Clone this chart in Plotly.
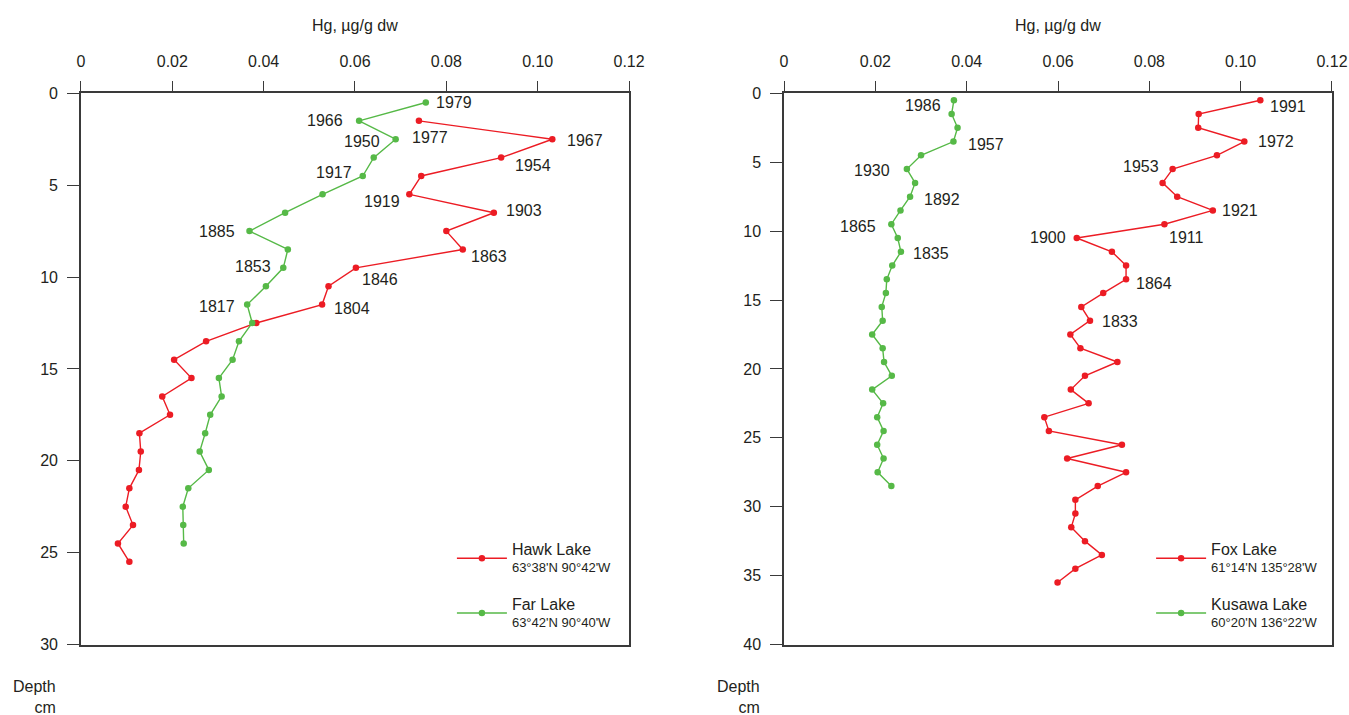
import plotly.graph_objects as go

# ---- Hg profiles (µg/g dry weight) versus sediment depth (cm) ----
hawk_depth = [1.5, 2.5, 3.5, 4.5, 5.5, 6.5, 7.5, 8.5, 9.5, 10.5, 11.5, 12.5, 13.5,
              14.5, 15.5, 16.5, 17.5, 18.5, 19.5, 20.5, 21.5, 22.5, 23.5, 24.5, 25.5]
hawk_hg = [0.0740, 0.1032, 0.0920, 0.0745, 0.0719, 0.0904, 0.0800, 0.0836, 0.0602,
           0.0542, 0.0528, 0.0384, 0.0274, 0.0204, 0.0242, 0.0178, 0.0195, 0.0128,
           0.0131, 0.0127, 0.0106, 0.0098, 0.0114, 0.0081, 0.0106]

far_depth = [0.5, 1.5, 2.5, 3.5, 4.5, 5.5, 6.5, 7.5, 8.5, 9.5, 10.5, 11.5, 12.5,
             13.5, 14.5, 15.5, 16.5, 17.5, 18.5, 19.5, 20.5, 21.5, 22.5, 23.5, 24.5]
far_hg = [0.0755, 0.0609, 0.0689, 0.0641, 0.0617, 0.0529, 0.0447, 0.0369, 0.0453,
          0.0443, 0.0405, 0.0364, 0.0375, 0.0346, 0.0332, 0.0302, 0.0308, 0.0283,
          0.0272, 0.0260, 0.0280, 0.0235, 0.0223, 0.0224, 0.0225]

fox_depth = [0.5, 1.5, 2.5, 3.5, 4.5, 5.5, 6.5, 7.5, 8.5, 9.5, 10.5, 11.5, 12.5,
             13.5, 14.5, 15.5, 16.5, 17.5, 18.5, 19.5, 20.5, 21.5, 22.5, 23.5,
             24.5, 25.5, 26.5, 27.5, 28.5, 29.5, 30.5, 31.5, 32.5, 33.5, 34.5, 35.5]
fox_hg = [0.1043, 0.0908, 0.0907, 0.1008, 0.0948, 0.0851, 0.0829, 0.0861, 0.0939,
          0.0833, 0.0641, 0.0718, 0.0749, 0.0749, 0.0699, 0.0651, 0.0670, 0.0627,
          0.0649, 0.0730, 0.0659, 0.0628, 0.0667, 0.0570, 0.0580, 0.0740, 0.0620,
          0.0749, 0.0687, 0.0638, 0.0638, 0.0629, 0.0659, 0.0696, 0.0638, 0.0599]

kusawa_depth = [0.5, 1.5, 2.5, 3.5, 4.5, 5.5, 6.5, 7.5, 8.5, 9.5, 10.5, 11.5, 12.5,
                13.5, 14.5, 15.5, 16.5, 17.5, 18.5, 19.5, 20.5, 21.5, 22.5, 23.5,
                24.5, 25.5, 26.5, 27.5, 28.5]
kusawa_hg = [0.0372, 0.0367, 0.0380, 0.0371, 0.0300, 0.0269, 0.0287, 0.0276, 0.0255,
             0.0235, 0.0249, 0.0256, 0.0237, 0.0225, 0.0223, 0.0214, 0.0216, 0.0193,
             0.0216, 0.0219, 0.0236, 0.0193, 0.0217, 0.0204, 0.0218, 0.0204, 0.0218,
             0.0205, 0.0235]

# ---- dated horizons (depth of the dated slice, year) ----
hawk_date_depths = [1.5, 2.5, 3.5, 5.5, 6.5, 8.5, 9.5, 11.5]
hawk_date_years = ["1977", "1967", "1954", "1919", "1903", "1863", "1846", "1804"]
far_date_depths = [0.5, 1.5, 2.5, 4.5, 7.5, 9.5, 11.5]
far_date_years = ["1979", "1966", "1950", "1917", "1885", "1853", "1817"]
fox_date_depths = [0.5, 3.5, 5.5, 8.5, 9.5, 10.5, 13.5, 16.5]
fox_date_years = ["1991", "1972", "1953", "1921", "1911", "1900", "1864", "1833"]
kusawa_date_depths = [0.5, 3.5, 5.5, 7.5, 9.5, 11.5]
kusawa_date_years = ["1986", "1957", "1930", "1892", "1865", "1835"]

x_ticks = [0, 0.02, 0.04, 0.06, 0.08, 0.10, 0.12]
x_tick_text = ["0", "0.02", "0.04", "0.06", "0.08", "0.10", "0.12"]

RED = "#ec1c24"
GREEN = "#56b947"
INK = "#231f20"
FRAME = "#3a3a3a"
FONT = "Liberation Sans, Arial, sans-serif"
FS = 16

fig = go.Figure()


def add_core(depth, hg, color, name, coords, xa, ya, legend):
    fig.add_trace(go.Scatter(
        x=hg, y=depth, mode="lines+markers", xaxis=xa, yaxis=ya,
        line=dict(color=color, width=1.4),
        marker=dict(color=color, size=6.5),
        name=f"<span style='font-size:{FS}px'>{name}</span><br>{coords}",
        legend=legend, legendgroup=name,
    ))


add_core(hawk_depth, hawk_hg, RED, "Hawk Lake", "63°38'N 90°42'W", "x", "y", "legend")
add_core(far_depth, far_hg, GREEN, "Far Lake", "63°42'N 90°40'W", "x", "y", "legend")
add_core(fox_depth, fox_hg, RED, "Fox Lake", "61°14'N 135°28'W", "x2", "y2", "legend2")
add_core(kusawa_depth, kusawa_hg, GREEN, "Kusawa Lake", "60°20'N 136°22'W", "x2", "y2", "legend2")

# label placement per dated slice: (anchor side, dx px, dy px downward)
hawk_place = [("left", -9, 17), ("left", 13, 1), ("left", 12, 8), ("right", -7, 7),
              ("left", 10, -2), ("left", 6, 7), ("left", 4, 12), ("left", 10, 4)]
far_place = [("left", 8, 0), ("right", -14, 0), ("right", -14, 2), ("right", -9, -3),
             ("right", -12, 0), ("right", -10, -1), ("right", -10, 2)]
fox_place = [("left", 8, 6), ("left", 12, 0), ("right", -12, -3), ("left", 7, 0),
             ("left", 3, 13), ("right", -9, 0), ("left", 8, 4), ("left", 10, 1)]
kusawa_place = [("right", -11, 5), ("left", 13, 3), ("right", -15, 1), ("left", 12, 3),
                ("right", -13, 2), ("left", 10, 2)]

annotations = []


def add_dates(depth, hg, date_depths, years, place, xr, yr):
    for d, yr_text, (side, dx, dy) in zip(date_depths, years, place):
        annotations.append(dict(
            x=hg[depth.index(d)], y=d, xref=xr, yref=yr, text=yr_text,
            showarrow=False, xanchor=side, yanchor="middle",
            xshift=dx, yshift=-dy, font=dict(size=FS, color=INK, family=FONT),
        ))


add_dates(hawk_depth, hawk_hg, hawk_date_depths, hawk_date_years, hawk_place, "x", "y")
add_dates(far_depth, far_hg, far_date_depths, far_date_years, far_place, "x", "y")
add_dates(fox_depth, fox_hg, fox_date_depths, fox_date_years, fox_place, "x2", "y2")
add_dates(kusawa_depth, kusawa_hg, kusawa_date_depths, kusawa_date_years, kusawa_place, "x2", "y2")

# axis titles
for xc in (0.2632, 0.7843):
    annotations.append(dict(x=xc, y=0.965, xref="paper", yref="paper",
                            text="Hg, µg/g dw", showarrow=False,
                            xanchor="center", yanchor="middle",
                            font=dict(size=FS, color=INK, family=FONT)))
for xr in (0.043, 0.5645):
    annotations.append(dict(x=xr, y=0.0545, xref="paper", yref="paper",
                            text="Depth<br>cm", showarrow=False, align="right",
                            xanchor="right", yanchor="top",
                            font=dict(size=FS, color=INK, family=FONT)))

common_x = dict(range=[0, 0.12], side="top", tickvals=x_ticks, ticktext=x_tick_text,
                ticks="outside", ticklen=11, tickwidth=1.3, tickcolor=FRAME,
                showline=True, linecolor=FRAME, linewidth=1.5, mirror=True,
                showgrid=False, zeroline=False, ticklabelstandoff=7, automargin=False,
                tickfont=dict(size=FS, color=INK, family=FONT))
common_y = dict(ticks="outside", ticklen=12, tickwidth=1.3, tickcolor=FRAME,
                showline=True, linecolor=FRAME, linewidth=1.5, mirror=True,
                showgrid=False, zeroline=False, ticklabelstandoff=6, automargin=False,
                tickfont=dict(size=FS, color=INK, family=FONT),
                domain=[0.0986, 0.8695])

legend_common = dict(bgcolor="rgba(0,0,0,0)", font=dict(size=13, color=INK, family=FONT),
                     tracegroupgap=18, xanchor="left", yanchor="top", itemwidth=50)

fig.update_layout(
    width=1349, height=715,
    margin=dict(l=0, r=0, t=0, b=0),
    paper_bgcolor="white", plot_bgcolor="white",
    font=dict(family=FONT, color=INK),
    xaxis=dict(domain=[0.0600, 0.4663], anchor="y", **common_x),
    yaxis=dict(anchor="x", range=[30, 0], tickvals=[0, 5, 10, 15, 20, 25, 30], **common_y),
    xaxis2=dict(domain=[0.5812, 0.9874], anchor="y2", **common_x),
    yaxis2=dict(anchor="x2", range=[40, 0], tickvals=[0, 5, 10, 15, 20, 25, 30, 35, 40],
                **common_y),
    legend=dict(x=0.335, y=0.252, **legend_common),
    legend2=dict(x=0.8533, y=0.252, **legend_common),
    annotations=annotations,
    showlegend=True,
)

fig.write_html("out.html")
